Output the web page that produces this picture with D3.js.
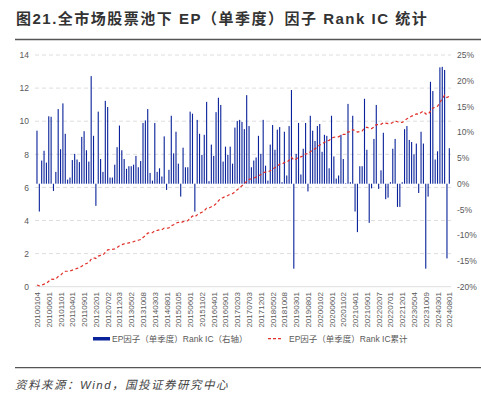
<!DOCTYPE html>
<html>
<head>
<meta charset="utf-8">
<script src="https://cdn.jsdelivr.net/npm/d3@7"></script>
<style>
  html, body { margin: 0; padding: 0; background: #fff; }
  svg { display: block; }
  text { font-family: "Liberation Sans", Arial, "Noto Sans CJK SC", sans-serif; }
</style>
</head>
<body>
<svg id="chart" width="481" height="393"></svg>
<script>
// ---- data (Rank IC, %, monthly 2010-01 .. 2024-08) ----
const icValues = [
  10.3, -5.4, 4.5, 6.4, 4.1, 13.1, 13.0, -1.4, 2.3, 14.5,
  6.7, 15.6, 9.7, 0.8, 1.2, 4.6, 5.8, 4.7, 4.2, 9.1,
  10.2, 6.5, 4.3, 20.9, 9.3, -4.3, 14.0, 4.8, 2.3, 16.1,
  14.9, 1.2, 1.2, 3.7, 7.1, 11.3, 6.5, 4.8, 2.9, 3.4,
  3.4, 3.7, 5.4, 3.2, 4.4, 11.8, 12.3, 14.5, 2.1, 0.6,
  11.8, 2.3, 3.0, 1.4, 9.2, -1.2, 2.7, 13.2, 5.9, 10.1,
  3.9, -2.5, 7.0, 3.2, 3.2, 14.0, 13.6, -5.4, 12.4, 9.7,
  5.6, 9.5, 15.9, 0.5, 7.6, 5.4, 13.9, 16.7, 15.3, 4.3,
  7.2, 5.6, 7.2, 3.9, 10.9, 12.2, 12.4, 12.0, 10.6, 17.2,
  11.2, 3.2, 4.5, 5.1, 9.3, 5.8, 12.4, 3.5, 0.6, 7.6,
  11.4, 6.6, 10.5, 11.0, 0.3, 10.1, 1.6, 11.2, 18.2, -16.5,
  5.8, 11.8, 1.8, 6.8, 11.8, -1.5, 13.2, 10.3, 8.3, 11.2,
  11.6, 6.2, 9.5, 9.3, 3.0, 13.2, 5.3, 1.0, 1.6, 9.5,
  4.8, 0.1, 15.5, 0.3, 13.2, -5.4, -9.4, 3.4, 3.4, 16.5,
  6.6, -7.6, -0.9, 8.7, 15.3, -1.0, 2.6, 9.9, -3.0, -2.7,
  0.3, 6.8, 8.7, -4.5, -4.5, 0.3, 10.6, 11.2, 8.5, 8.1,
  5.7, 7.8, -1.8, 10.1, 7.8, -16.5, -2.5, 19.8, 18.0, 4.7,
  6.3, 22.6, 22.7, 22.1, -14.5, 6.9
];
const tickLabels = [
  "20100104","20100601","20101101","20110401","20110901","20120201",
  "20120702","20121203","20130502","20131008","20140303","20140801",
  "20150105","20150601","20151102","20160401","20160901","20170203",
  "20170703","20171201","20180502","20181008","20190301","20190801",
  "20200102","20200601","20201102","20210401","20210901","20220207",
  "20220701","20221201","20230504","20231009","20240301","20240801"
];
const leftTicks = [0, 2, 4, 6, 8, 10, 12, 14];
const rightTicks = [-20, -15, -10, -5, 0, 5, 10, 15, 20, 25];
const titleText = "图21.全市场股票池下 EP（单季度）因子 Rank IC 统计";
const sourceText = "资料来源：Wind，国投证券研究中心";
const legendBar = "EP因子（单季度）Rank IC（右轴）";
const legendLine = "EP因子（单季度）Rank IC累计";

// cumulative IC (decimal) drawn on left axis
const cumValues = Array.from(d3.cumsum(icValues, v => v / 100));
const idx = d3.range(icValues.length);

const svg = d3.select("#chart");
const plotTop = 55, plotBottom = 286.7, plotL = 35, plotR = 451;

const x = d3.scaleBand().domain(idx).range([35.8, 450.5]).paddingInner(0.53).paddingOuter(0.265);
const yL = d3.scaleLinear().domain([0, 14]).range([plotBottom, plotTop]);
const yR = d3.scaleLinear().domain([-20, 25]).range([plotBottom, plotTop]);

// title
svg.append("text").attr("x", 16).attr("y", 24)
  .attr("font-size", 15).attr("font-weight", "bold").attr("fill", "#333")
  .attr("letter-spacing", 1.5)
  .text(titleText);
svg.append("line").attr("x1", 15).attr("x2", 481).attr("y1", 39.5).attr("y2", 39.5)
  .attr("stroke", "#555").attr("stroke-width", 1.5);

// gridlines
svg.append("g").selectAll("line").data(leftTicks).join("line")
  .attr("x1", plotL).attr("x2", plotR)
  .attr("y1", d => yL(d)).attr("y2", d => yL(d))
  .attr("stroke", "#dedede").attr("stroke-width", 1)
  .attr("stroke-dasharray", d => d === 0 ? null : "4,3");

// left axis
const axL = svg.append("g").attr("transform", `translate(${plotL - 6},0)`)
  .call(d3.axisLeft(yL).tickValues(leftTicks).tickSize(0).tickPadding(0));
axL.select(".domain").remove();
axL.selectAll("text").attr("font-size", 8.5).attr("fill", "#595959")
  .attr("font-family", "Liberation Sans, Arial, sans-serif");

// right axis
const axR = svg.append("g").attr("transform", `translate(${plotR + 6},0)`)
  .call(d3.axisRight(yR).tickValues(rightTicks).tickSize(0).tickPadding(0).tickFormat(d => d + "%"));
axR.select(".domain").remove();
axR.selectAll("text").attr("font-size", 8.5).attr("fill", "#595959")
  .attr("font-family", "Liberation Sans, Arial, sans-serif");

// bars
svg.append("g").selectAll("rect").data(icValues).join("rect")
  .attr("x", (d, i) => x(i))
  .attr("width", x.bandwidth())
  .attr("y", d => yR(Math.max(0, d)))
  .attr("height", d => Math.abs(yR(d) - yR(0)))
  .attr("fill", "#0a239a");

// cumulative line
svg.append("path").datum(cumValues)
  .attr("fill", "none").attr("stroke", "#e0302a").attr("stroke-width", 1.2)
  .attr("stroke-dasharray", "3,2.5")
  .attr("d", d3.line().x((d, i) => x(i) + x.bandwidth() / 2).y(d => yL(d)));

// x tick labels (every 5th month)
svg.append("g").selectAll("text").data(tickLabels).join("text")
  .attr("transform", (d, k) => `translate(${x(k * 5) + x.bandwidth() / 2 + 3},292) rotate(-90)`)
  .attr("text-anchor", "end")
  .attr("font-size", 8).attr("fill", "#595959")
  .attr("font-family", "Liberation Sans, Arial, sans-serif")
  .text(d => d);

// legend
svg.append("rect").attr("x", 93).attr("y", 337).attr("width", 17).attr("height", 3.5).attr("fill", "#0a239a");
svg.append("text").attr("x", 112).attr("y", 341.5).attr("font-size", 8.5).attr("fill", "#595959").text(legendBar);
svg.append("line").attr("x1", 268).attr("x2", 281).attr("y1", 338.7).attr("y2", 338.7)
  .attr("stroke", "#e0302a").attr("stroke-width", 1.3).attr("stroke-dasharray", "3,2");
svg.append("text").attr("x", 289).attr("y", 341.5).attr("font-size", 8.5).attr("fill", "#595959").text(legendLine);

// bottom rule and source
svg.append("line").attr("x1", 15).attr("x2", 481).attr("y1", 367.7).attr("y2", 367.7)
  .attr("stroke", "#555").attr("stroke-width", 1.2);
svg.append("text").attr("x", 15).attr("y", 389).attr("font-size", 11.5).attr("font-style", "italic")
  .attr("letter-spacing", 1.5)
  .attr("fill", "#444").text(sourceText);
</script>
</body>
</html>
